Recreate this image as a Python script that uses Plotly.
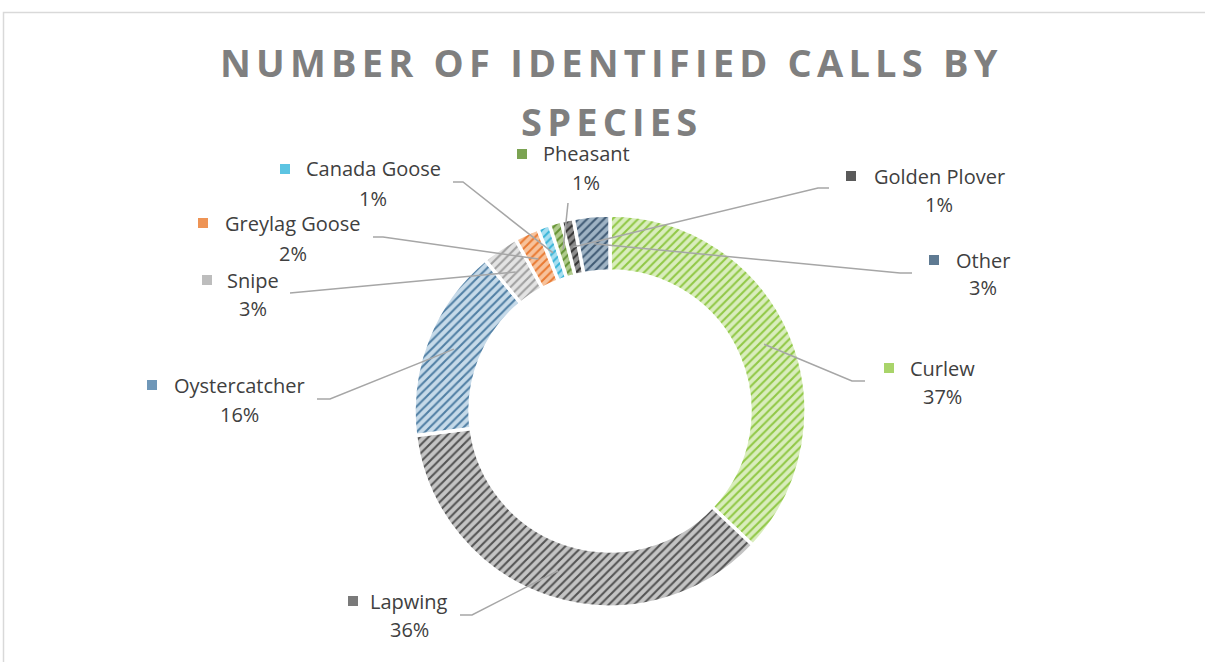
import plotly.graph_objects as go
import math

# ---------------- data ----------------
species = ["Curlew", "Lapwing", "Oystercatcher", "Snipe", "Greylag Goose",
           "Canada Goose", "Pheasant", "Golden Plover", "Other"]
values = [37, 36, 16, 3, 2, 1, 1, 1, 3]
fg_colors = ["#8cc63f", "#4d4d4d", "#4a7aa0", "#9c9c9c", "#e8762d",
             "#33b2d6", "#5f8f2e", "#2e2e2e", "#3b5670"]
bg_colors = ["#d9edbd", "#c4c4c4", "#c6dae9", "#e3e3e3", "#f7c29b",
             "#a6def0", "#b0cb8c", "#8c8c8c", "#9fb3c4"]
key_colors = ["#a9d46a", "#7a7a7a", "#6f97b8", "#bdbdbd", "#ee9455",
              "#5cc4e2", "#7ba352", "#5a5a5a", "#5f7a92"]
title_lines = ["NUMBER OF IDENTIFIED CALLS BY", "SPECIES"]

# ---------------- layout geometry (pixels) ----------------
W, H = 1205, 662
CX, CY, R, HOLE = 610, 411, 196, 0.714

# label layout: name centre (x, y), percent y, key x, elbow point, line end
label_pos = {
    "Curlew":        dict(x=942, y=368, py=397, kx=889, elbow=(852, 381), end=(865, 381)),
    "Lapwing":       dict(x=409, y=601, py=629, kx=353, elbow=(472, 615), end=(460, 615)),
    "Oystercatcher": dict(x=239, y=385, py=414, kx=152, elbow=(330, 399), end=(317, 399)),
    "Snipe":         dict(x=253, y=280, py=308, kx=207, elbow=(290, 293), end=(290, 293)),
    "Greylag Goose": dict(x=293, y=223, py=253, kx=203, elbow=(383, 237), end=(373, 237)),
    "Canada Goose":  dict(x=373, y=169, py=198, kx=285, elbow=(463, 182), end=(453, 182)),
    "Pheasant":      dict(x=586, y=154, py=183, kx=522, elbow=(568, 203), end=(568, 203)),
    "Golden Plover": dict(x=939, y=176, py=205, kx=851, elbow=(818, 188), end=(829, 188)),
    "Other":         dict(x=983, y=260, py=288, kx=934, elbow=(900, 273), end=(912, 273)),
}


def to_paper(x, y):
    return x / W, 1 - y / H


fig = go.Figure()
fig.add_trace(go.Pie(
    labels=species,
    values=values,
    sort=False,
    direction="clockwise",
    rotation=0,
    hole=HOLE,
    textinfo="none",
    hoverinfo="label+percent",
    showlegend=False,
    marker=dict(
        colors=bg_colors,
        line=dict(color="white", width=3.5),
        pattern=dict(shape="/", fgcolor=fg_colors, size=6, solidity=0.35,
                     fillmode="overlay", fgopacity=0.95),
    ),
    domain=dict(x=[(CX - R) / W, (CX + R) / W],
                y=[1 - (CY + R) / H, 1 - (CY - R) / H]),
))

shapes = []
annotations = []
total = sum(values)
cum = 0.0
label_font = dict(family="Open Sans, Lato, sans-serif", size=20, color="#404040")
rmid = R * (1 + HOLE) / 2
for name, v, kc in zip(species, values, key_colors):
    mid = (cum + v / 2) / total
    cum += v
    ang = 2 * math.pi * mid
    sx = CX + rmid * math.sin(ang)
    sy = CY - rmid * math.cos(ang)
    lp = label_pos[name]
    ex, ey = lp["elbow"]
    tx, ty = lp["end"]
    p0 = to_paper(sx, sy)
    p1 = to_paper(ex, ey)
    p2 = to_paper(tx, ty)
    shapes.append(dict(type="path", xref="paper", yref="paper",
                       path=f"M {p0[0]},{p0[1]} L {p1[0]},{p1[1]} L {p2[0]},{p2[1]}",
                       line=dict(color="#a6a6a6", width=1.5)))
    # legend key square
    k0 = to_paper(lp["kx"] - 5, lp["y"] - 5)
    k1 = to_paper(lp["kx"] + 5, lp["y"] + 5)
    shapes.append(dict(type="rect", xref="paper", yref="paper",
                       x0=k0[0], y0=k0[1], x1=k1[0], y1=k1[1],
                       fillcolor=kc, line=dict(width=0)))
    nx, ny = to_paper(lp["x"], lp["y"])
    annotations.append(dict(text=name, x=nx, y=ny, xref="paper", yref="paper",
                            xanchor="center", yanchor="middle", showarrow=False,
                            font=label_font))
    qx, qy = to_paper(lp["x"], lp["py"])
    annotations.append(dict(text=f"{round(v / total * 100)}%", x=qx, y=qy,
                            xref="paper", yref="paper", xanchor="center",
                            yanchor="middle", showarrow=False, font=label_font))

# outer chart border
b0 = to_paper(3.5, 12.5)
b1 = to_paper(1215, 680)
shapes.append(dict(type="rect", xref="paper", yref="paper",
                   x0=b0[0], y0=b0[1], x1=b1[0], y1=b1[1],
                   line=dict(color="#d9d9d9", width=1.5), fillcolor="rgba(0,0,0,0)"))

# title lines
title_font = dict(family="Open Sans, sans-serif", size=38, color="#7f7f7f", weight="bold")
for txt, ypx in zip(title_lines, [62, 121]):
    tx, ty = to_paper(611, ypx)
    annotations.append(dict(text=f'<span style="letter-spacing:5.2px">{txt}</span>',
                            x=tx, y=ty, xref="paper", yref="paper",
                            xanchor="center", yanchor="middle", showarrow=False,
                            font=title_font))

fig.update_layout(
    width=W, height=H,
    margin=dict(l=0, r=0, t=0, b=0),
    paper_bgcolor="white",
    plot_bgcolor="white",
    shapes=shapes,
    annotations=annotations,
)

fig.write_html("out.html")
